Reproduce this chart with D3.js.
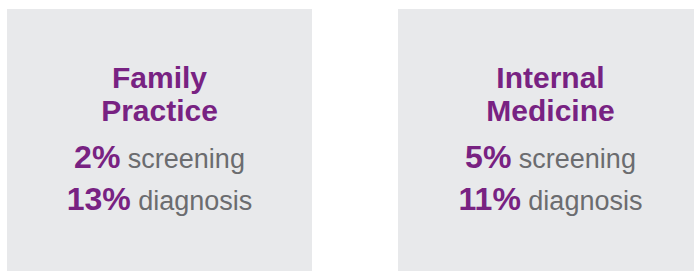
<!DOCTYPE html>
<html>
<head>
<meta charset="utf-8">
<script src="https://cdn.jsdelivr.net/npm/d3@7"></script>
<style>
  html, body { margin: 0; padding: 0; background: #fff; }
  svg { display: block; }
</style>
</head>
<body>
<div id="chart"></div>
<script>
// Daten
const specialties = ["Family Practice", "Internal Medicine"];
const titleLines = [["Family", "Practice"], ["Internal", "Medicine"]];
const screening = [2, 5];
const diagnosis = [13, 11];
const metricLabels = ["screening", "diagnosis"];

const width = 694, height = 271;
const purple = "#782282", grey = "#6b6c6f", boxFill = "#e8e9eb";

const svg = d3.select("#chart").append("svg")
    .attr("width", width)
    .attr("height", height);

// Boxen über eine Band-Skala
const boxW = 305, gap = 86;
const x = d3.scaleBand()
    .domain(specialties)
    .range([7, 7 + 2 * boxW + gap])
    .paddingInner(gap / (boxW + gap))
    .paddingOuter(0);

const cards = svg.selectAll("g.card")
    .data(specialties.map((s, i) => ({
        name: s,
        lines: titleLines[i],
        values: [screening[i], diagnosis[i]]
    })))
    .join("g")
    .attr("class", "card")
    .attr("transform", d => `translate(${x(d.name)},0)`);

cards.append("rect")
    .attr("x", 0)
    .attr("y", 9)
    .attr("width", x.bandwidth())
    .attr("height", 262)
    .attr("fill", boxFill);

const cx = x.bandwidth() / 2;
const font = "'Liberation Sans', Arial, Helvetica, sans-serif";

// Titel
cards.each(function(d) {
    const g = d3.select(this);
    d.lines.forEach((line, j) => {
        g.append("text")
            .attr("x", cx)
            .attr("y", 88 + j * 33)
            .attr("text-anchor", "middle")
            .style("font-family", font)
            .style("font-size", "30px")
            .style("font-weight", "bold")
            .style("fill", purple)
            .text(line);
    });

    // Werte
    const rowY = [168, 210];
    d.values.forEach((v, j) => {
        const t = g.append("text")
            .attr("x", cx)
            .attr("y", rowY[j])
            .attr("text-anchor", "middle")
            .style("font-family", font);
        t.append("tspan")
            .style("font-size", "32px")
            .style("font-weight", "bold")
            .style("fill", purple)
            .text(v + "%");
        t.append("tspan")
            .style("font-size", "27px")
            .style("fill", grey)
            .text("\u00a0" + metricLabels[j]);
    });
});
</script>
</body>
</html>
